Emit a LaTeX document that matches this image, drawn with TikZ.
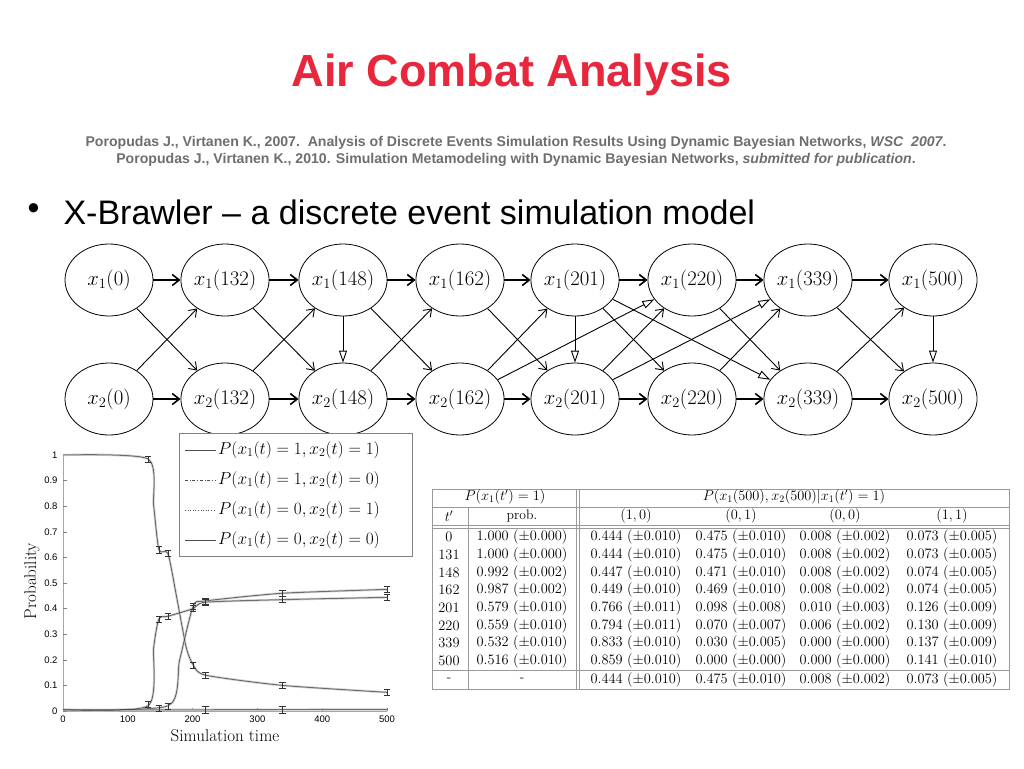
\documentclass[tikz,border=0pt]{standalone}
\usepackage{fontspec}
\setsansfont{Liberation Sans}
\usetikzlibrary{arrows.meta,shapes.geometric}
\definecolor{titlered}{RGB}{232,38,60}
\definecolor{refgray}{RGB}{110,110,110}
\begin{document}
\begin{tikzpicture}[x=1pt,y=1pt,
  st/.style={draw,thick,ellipse,minimum width=88pt,minimum height=72pt,inner sep=0pt,font=\fontsize{21}{21}\selectfont},
  hor/.style={-{Straight Barb[length=7pt,width=11pt]},line width=1.6pt},
  dia/.style={-{Straight Barb[length=7pt,width=10pt]},line width=0.9pt},
  tri/.style={-{Triangle[open,length=12pt,width=8pt]},line width=0.9pt},
  tc/.style={font=\fontsize{13.7}{13.7}\selectfont,anchor=center},
  tk/.style={font=\sffamily\fontsize{9.5}{9.5}\selectfont}]
\useasboundingbox (0,0) rectangle (1024,-768);
\fill[white] (0,0) rectangle (1024,-768);
\node[font=\sffamily\bfseries\fontsize{45}{45}\selectfont,text=titlered] (title) at (512,-75) {Air Combat Analysis};
\node[font=\sffamily\bfseries\fontsize{14.1}{14.1}\selectfont,text=refgray] (r1) at (516,-143) {Poropudas J., Virtanen K., 2007.\ \ Analysis of Discrete Events Simulation Results Using Dynamic Bayesian Networks, \textit{WSC\ \ 2007}.};
\node[font=\sffamily\bfseries\fontsize{14.1}{14.1}\selectfont,text=refgray] (r2) at (516,-160) {Poropudas J., Virtanen K., 2010. Simulation Metamodeling with Dynamic Bayesian Networks, \textit{submitted for publication}.};
\node[font=\sffamily\fontsize{34}{34}\selectfont,anchor=west] (bul) at (24,-212) {•};
\node[font=\sffamily\fontsize{34}{34}\selectfont,anchor=west] (btxt) at (60,-212) {X-Brawler – a discrete event simulation model};
% network
\foreach \i/\x/\t in {0/109/0,1/225/132,2/343/148,3/460/162,4/575/201,5/692/220,6/808/339,7/933/500}{
  \node[st] (a\i) at (\x,-280) {$x_1(\t)$};
  \node[st] (b\i) at (\x,-399) {$x_2(\t)$};
}
\foreach \i/\j in {0/1,1/2,2/3,3/4,4/5,5/6,6/7}{
  \draw[hor] (a\i) -- (a\j); \draw[hor] (b\i) -- (b\j);}
\foreach \p/\q in {a0/b1,b0/a1,a1/b2,b1/a2,a2/b3,b2/a3,a3/b4,b3/a4,a4/b5,b4/a5,b5/a6,a5/b6,b6/a7,a6/b7}{
  \draw[dia] (\p) -- (\q);}
\foreach \p/\q in {a2/b2,a4/b4,a7/b7,b3/a5,a4/b6,b4/a6}{
  \draw[tri] (\p) -- (\q);}
% plot
\begin{scope}[shift={(63,-711)},x=0.648pt,y=256pt]
\draw[gray!70,line width=0.8pt] (0,0) -- (500,0);
\draw[gray!70,line width=0.8pt] (0,0) -- (0,1);
\foreach \v in {0,100,200,300,400,500}{\draw[gray] (\v,0) -- (\v,0.012); \node[tk,below] (xt\v) at (\v,-0.005) {\v};}
\foreach \v in {0,0.1,0.2,0.3,0.4,0.5,0.6,0.7,0.8,0.9,1}{\draw[gray] (0,\v) -- (6,\v); \node[tk,left] at (-3,\v) {\v};}
\foreach \c/\w in {gray!45/2.2pt,black!75/0.5pt}{
\draw[\c,line width=\w] plot[smooth,tension=0.4] coordinates {(0,1) (131,0.985) (140,0.8) (148,0.63) (162,0.615) (175,0.45) (190,0.25) (201,0.18) (220,0.14) (339,0.1) (500,0.073)};
\draw[\c,line width=\w] plot[smooth,tension=0.4] coordinates {(0,0.005) (162,0.02) (180,0.2) (201,0.41) (220,0.43) (339,0.46) (500,0.475)};
\draw[\c,line width=\w] plot[smooth,tension=0.4] coordinates {(0,0.005) (131,0.02) (140,0.25) (148,0.36) (162,0.37) (201,0.40) (220,0.425) (339,0.435) (500,0.444)};
\draw[\c,line width=\w] (0,0.004) -- (500,0.006);
}
\foreach \t/\p in {131/0.985,148/0.63,162/0.615,201/0.18,220/0.14,339/0.1,500/0.073,201/0.41,220/0.43,339/0.46,500/0.475,131/0.025,148/0.36,162/0.37,201/0.40,220/0.425,339/0.435,500/0.444,148/0.012,162/0.02,220/0.005,339/0.005}{
  \draw[black!80,line width=0.5pt] (\t-5,\p-0.012) -- (\t+5,\p-0.012) (\t,\p-0.012) -- (\t,\p+0.012) (\t-5,\p+0.012) -- (\t+5,\p+0.012);}
\end{scope}
\node[rotate=90,font=\fontsize{17}{17}\selectfont] (ylab) at (32,-581) {Probability};
\node[font=\fontsize{17}{17}\selectfont] (xlab) at (225,-736) {Simulation time};
\draw[gray,fill=white] (179,-433) rectangle (412,-556);
\foreach \y/\s/\tx in {450/solid/{P(x_1(t)=1,x_2(t)=1)},480/dash dot/{P(x_1(t)=1,x_2(t)=0)},510/dotted/{P(x_1(t)=0,x_2(t)=1)},540/solid/{P(x_1(t)=0,x_2(t)=0)}}{
  \draw[\s,black!70,line width=0.6pt] (185,-\y) -- (216,-\y);
  \node[anchor=west,font=\fontsize{18.5}{18.5}\selectfont,inner sep=0pt] at (218,-\y) {$\tx$};}
% table
\begin{scope}[gray!80,line width=0.7pt]
\draw (432,-489) rectangle (1009,-689);
\draw (432,-507) -- (1009,-507);
\draw (432,-525) -- (1009,-525) (432,-528) -- (1009,-528);
\draw (432,-670) -- (1009,-670);
\draw (468,-507) -- (468,-689);
\draw (576,-489) -- (576,-689) (579,-489) -- (579,-689);
\end{scope}
\node[tc] (h1) at (505,-497) {$P(x_1(t')=1)$};
\node[tc] (h2) at (794,-497) {$P(x_1(500),x_2(500)|x_1(t')=1)$};
\node[tc] (h3) at (449,-516) {$t'$};
\node[tc] (h4) at (522,-516) {prob.};
\foreach \x/\l in {636/{(1,0)},741/{(0,1)},845/{(0,0)},952/{(1,1)}}{\node[tc] at (\x,-516) {$\l$};}
\foreach \r/\t in {0/0,1/131,2/148,3/162,4/201,5/220,6/339,7/500}{
  \node[tc] at (449,-537-17.7*\r) {$\t$};
}
\foreach \r/\a/\ea in {0/1.000/0.000,1/1.000/0.000,2/0.992/0.002,3/0.987/0.002,4/0.579/0.010,5/0.559/0.010,6/0.532/0.010,7/0.516/0.010}{
  \node[tc] at (522,-537-17.7*\r) {$\a\ (\pm\ea)$};}
\foreach \r/\b/\eb/\c/\ec/\d/\ed/\e/\ee in {
0/0.444/0.010/0.475/0.010/0.008/0.002/0.073/0.005,
1/0.444/0.010/0.475/0.010/0.008/0.002/0.073/0.005,
2/0.447/0.010/0.471/0.010/0.008/0.002/0.074/0.005,
3/0.449/0.010/0.469/0.010/0.008/0.002/0.074/0.005,
4/0.766/0.011/0.098/0.008/0.010/0.003/0.126/0.009,
5/0.794/0.011/0.070/0.007/0.006/0.002/0.130/0.009,
6/0.833/0.010/0.030/0.005/0.000/0.000/0.137/0.009,
7/0.859/0.010/0.000/0.000/0.000/0.000/0.141/0.010,
8.1/0.444/0.010/0.475/0.010/0.008/0.002/0.073/0.005}{
  \node[tc] at (636,-537-17.7*\r) {$\b\ (\pm\eb)$};
  \node[tc] at (741,-537-17.7*\r) {$\c\ (\pm\ec)$};
  \node[tc] at (845,-537-17.7*\r) {$\d\ (\pm\ed)$};
  \node[tc] at (952,-537-17.7*\r) {$\e\ (\pm\ee)$};
}
\node[tc] (d1) at (449,-680) {-};
\node[tc] (d2) at (522,-680) {-};
\end{tikzpicture}
\end{document}
